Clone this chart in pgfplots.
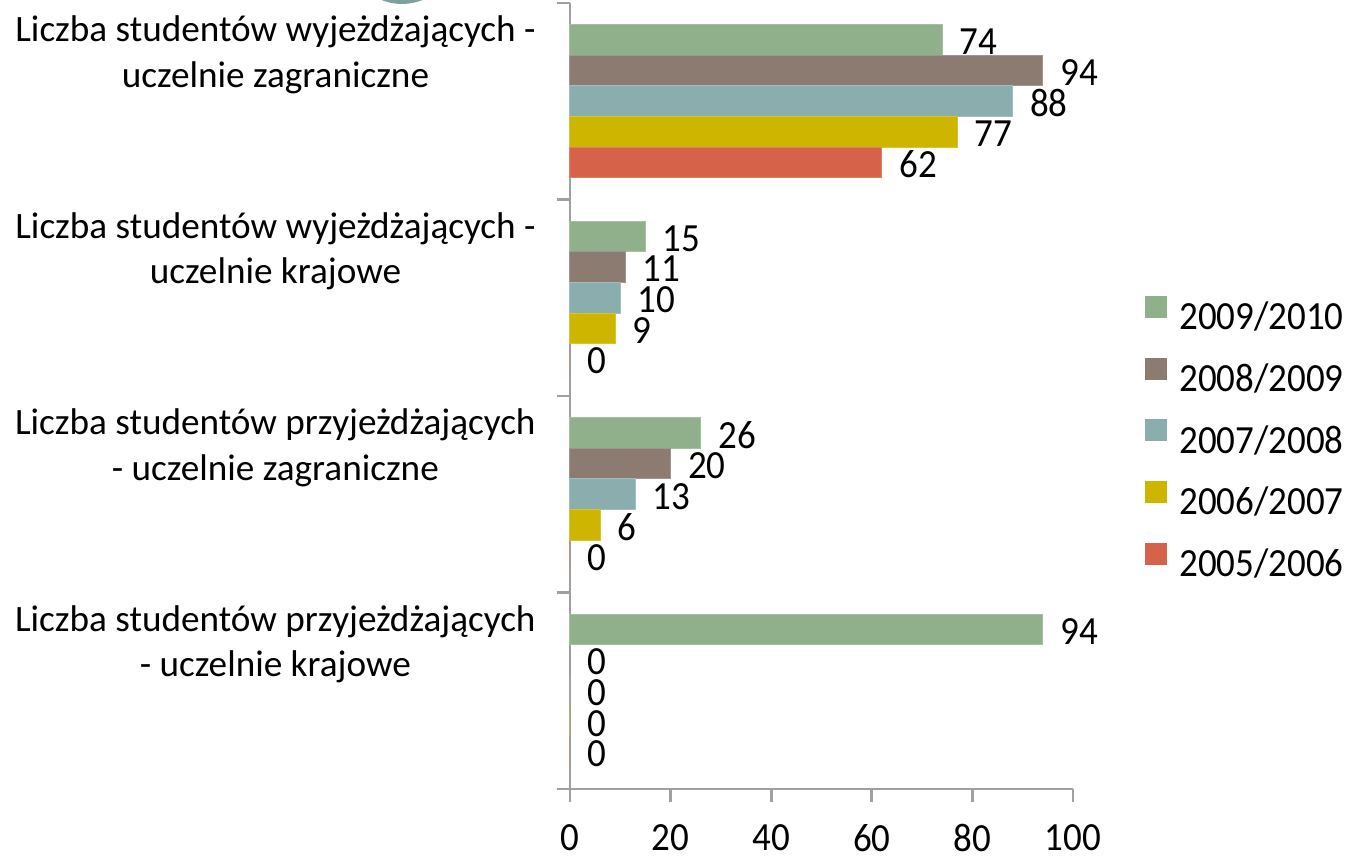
\documentclass[border=0pt]{standalone}
\usepackage{pgfplots}
\pgfplotsset{compat=1.18}
\usepackage{fontspec}
\usepackage{graphicx}
\setmainfont{Carlito}
\newcommand{\St}[1]{\scalebox{1}[1.08]{#1}}
\definecolor{cA}{HTML}{8FB08B}
\definecolor{cB}{HTML}{8B7B70}
\definecolor{cC}{HTML}{8AADAD}
\definecolor{cD}{HTML}{CDB500}
\definecolor{cE}{HTML}{D66349}
\definecolor{axgray}{HTML}{A0A0A0}
\definecolor{circ}{HTML}{7FA09F}
\begin{document}
\begin{tikzpicture}
\fill[color=circ] (-84pt,419.75pt) circle (27.25pt);
\begin{axis}[
  name=ax,
  at={(0,0)}, anchor=south west,
  scale only axis,
  width=251.5pt, height=393pt,
  xmin=0, xmax=100, ymin=-0.5, ymax=3.5,
  axis lines*=left,
  axis line style={draw=axgray, line width=1.4pt},
  tick style={draw=axgray, line width=1.4pt},
  tick align=outside,
  major tick length=6.5pt,
  minor tick length=6.5pt,
  xtick={0,20,40,60,80,100},
  xticklabels={\St{0},\St{20},\St{40},\St{60},\St{80},\St{100}},
  xticklabel style={anchor=north, inner sep=0pt, yshift=-11pt, font=\fontsize{18.5}{22}\selectfont},
  ytick={0,1,2,3},
  minor ytick={-0.5,0.5,1.5,2.5,3.5},
  every major y tick/.style={draw=none},
  yticklabels={
    {\begin{tabular}{@{}c@{}}Liczba studentów przyjeżdżających\\- uczelnie krajowe\end{tabular}},
    {\begin{tabular}{@{}c@{}}Liczba studentów przyjeżdżających\\- uczelnie zagraniczne\end{tabular}},
    {\begin{tabular}{@{}c@{}}Liczba studentów wyjeżdżających -\\uczelnie krajowe\end{tabular}},
    {\begin{tabular}{@{}c@{}}Liczba studentów wyjeżdżających -\\uczelnie zagraniczne\end{tabular}}},
  yticklabel style={anchor=east, inner sep=0pt, xshift=-10.5pt, yshift=23pt, font=\fontsize{18.6}{22.8}\selectfont},
  xbar, bar width=0.156,
  point meta=x,
  nodes near coords={\St{\pgfmathprintnumber\pgfplotspointmeta}},
  every node near coord/.append style={anchor=west, inner sep=0pt, xshift=8.5pt, yshift=-1pt, font=\fontsize{18.5}{22}\selectfont, text=black},
  /pgf/number format/assume math mode=true,
  legend style={draw=none, fill=none, at={(1,0.445)}, anchor=west, xshift=36pt,
    inner sep=0pt, row sep=11pt, column sep=6pt,
    font=\fontsize{18.5}{22}\selectfont,
    nodes={inner sep=0pt, text height=13pt, text depth=3pt}},
  legend cell align=left,
  legend image code/.code={\fill[#1,draw=none] (0pt,0.8pt) rectangle (11pt,11.8pt);},
  clip=false,
]
\addplot[fill=cA, draw=cA!80!white, line width=0.5pt, bar shift=0.312] coordinates {(74,3) (15,2) (26,1) (94,0)};
\addplot[fill=cB, draw=cB!80!white, line width=0.5pt, bar shift=0.156] coordinates {(94,3) (11,2) (20,1) (0,0)};
\addplot[fill=cC, draw=cC!80!white, line width=0.5pt, bar shift=0] coordinates {(88,3) (10,2) (13,1) (0,0)};
\addplot[fill=cD, draw=cD!80!white, line width=0.5pt, bar shift=-0.156] coordinates {(77,3) (9,2) (6,1) (0,0)};
\addplot[fill=cE, draw=cE!80!white, line width=0.5pt, bar shift=-0.312] coordinates {(62,3) (0,2) (0,1) (0,0)};
\legend{\St{2009/2010},\St{2008/2009},\St{2007/2008},\St{2006/2007},\St{2005/2006}}
\end{axis}
\pgfresetboundingbox
\path[use as bounding box] (-285pt,-36.5pt) rectangle (389.5pt,394.5pt);
\end{tikzpicture}
\end{document}
